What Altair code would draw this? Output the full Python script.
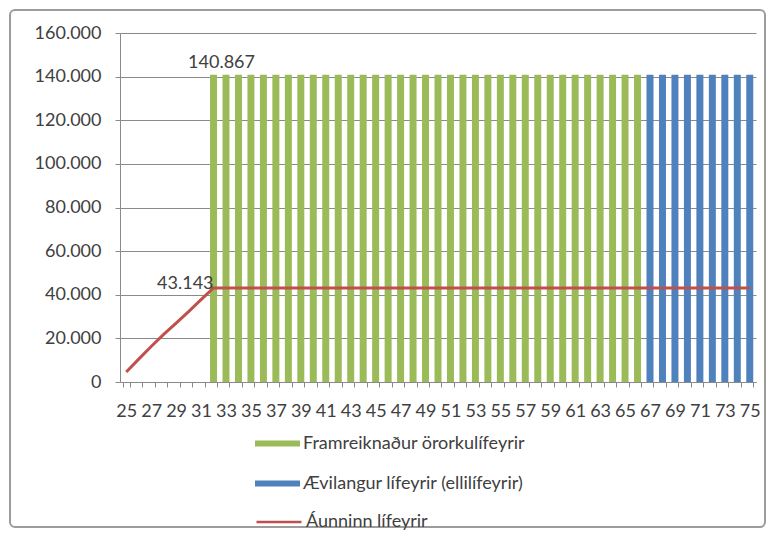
import altair as alt
import pandas as pd

# ---- data ----
ages = [25, 26, 27, 28, 29, 30, 31, 32, 33, 34, 35, 36, 37, 38, 39, 40, 41, 42, 43, 44,
        45, 46, 47, 48, 49, 50, 51, 52, 53, 54, 55, 56, 57, 58, 59, 60, 61, 62, 63, 64,
        65, 66, 67, 68, 69, 70, 71, 72, 73, 74, 75]

# Framreiknaður örorkulífeyrir (green bars), ages 32-66
disability = [None, None, None, None, None, None, None,
              140867, 140867, 140867, 140867, 140867, 140867, 140867, 140867, 140867, 140867,
              140867, 140867, 140867, 140867, 140867, 140867, 140867, 140867, 140867, 140867,
              140867, 140867, 140867, 140867, 140867, 140867, 140867, 140867, 140867, 140867,
              140867, 140867, 140867, 140867, 140867,
              None, None, None, None, None, None, None, None, None]

# Ævilangur lífeyrir (blue bars), ages 67-75
lifelong = [None, None, None, None, None, None, None,
            None, None, None, None, None, None, None, None, None, None,
            None, None, None, None, None, None, None, None, None, None,
            None, None, None, None, None, None, None, None, None, None,
            None, None, None, None, None,
            140867, 140867, 140867, 140867, 140867, 140867, 140867, 140867, 140867]

# Áunninn lífeyrir (red line)
earned = [4600, 10500, 16300, 21800, 27000, 32300, 37800, 43143,
          43143, 43143, 43143, 43143, 43143, 43143, 43143, 43143, 43143, 43143,
          43143, 43143, 43143, 43143, 43143, 43143, 43143, 43143, 43143, 43143,
          43143, 43143, 43143, 43143, 43143, 43143, 43143, 43143, 43143, 43143,
          43143, 43143, 43143, 43143, 43143, 43143, 43143, 43143, 43143, 43143,
          43143, 43143, 43143]

y_ticks = [0, 20000, 40000, 60000, 80000, 100000, 120000, 140000, 160000]

s_green = "Framreiknaður örorkulífeyrir"
s_blue = "Ævilangur lífeyrir (ellilífeyrir)"
s_red = "Áunninn lífeyrir"

# ---- tables ----
age_lbl = [str(a) for a in ages]
bar_rows = []
for a, v in zip(age_lbl, disability):
    if v is not None:
        bar_rows.append({"age": a, "value": v, "serie": s_green})
for a, v in zip(age_lbl, lifelong):
    if v is not None:
        bar_rows.append({"age": a, "value": v, "serie": s_blue})
bars_df = pd.DataFrame(bar_rows)
line_df = pd.DataFrame({"age": age_lbl, "value": earned, "serie": [s_red] * len(ages)})

def fmt(v):
    return f"{v:,}".replace(",", ".")

first_bar = next(i for i, v in enumerate(disability) if v is not None)
peak = earned.index(max(earned))
bar_lab = pd.DataFrame({"age": [age_lbl[first_bar]], "value": [disability[first_bar]],
                        "txt": [fmt(disability[first_bar])]})
line_lab = pd.DataFrame({"age": [age_lbl[peak]], "value": [earned[peak]],
                         "txt": [fmt(earned[peak])]})

FONT = "Lato"
TXT = "#404040"
GRID = "#8a8a8a"

W, H = 636, 349

xscale = alt.Scale(domain=age_lbl, paddingInner=0.44, paddingOuter=0.22)
yscale = alt.Scale(domain=[0, 160000], nice=False)

xaxis = alt.Axis(title=None, labelExpr="toNumber(datum.value) % 2 == 1 ? datum.label : ''",
                 labelOverlap=False, labelAngle=0, tickBand="extent", ticks=True,
                 tickSize=5, tickColor=GRID, tickWidth=1, domainColor=GRID, grid=False,
                 labelFont=FONT, labelFontSize=18, labelColor=TXT, labelPadding=15,
                 labelFontWeight="normal")
yaxis = alt.Axis(title=None, values=y_ticks, grid=True, gridColor=GRID, gridWidth=1,
                 tickSize=5, tickColor=GRID, domainColor=GRID,
                 labelExpr="replace(format(datum.value, ','), ',', '.')",
                 labelFont=FONT, labelFontSize=18, labelColor=TXT, labelPadding=14)

base_bars = alt.Chart(bars_df).mark_bar().encode(
    x=alt.X("age:N", scale=xscale, axis=xaxis, sort=age_lbl),
    y=alt.Y("value:Q", scale=yscale, axis=yaxis),
    color=alt.Color("serie:N",
                    scale=alt.Scale(domain=[s_green, s_blue], range=["#9BBB59", "#4F81BD"]),
                    legend=alt.Legend(orient="none", legendX=135, legendY=388,
                                      direction="vertical", title=None,
                                      symbolType="M-1,-0.133H1V0.133H-1Z", symbolSize=2025,
                                      symbolStrokeWidth=0, labelFont=FONT, labelFontSize=18,
                                      labelColor=TXT, labelOffset=3, rowPadding=8,
                                      padding=0, labelLimit=400)),
)

line = alt.Chart(line_df).mark_line(strokeWidth=3).encode(
    x=alt.X("age:N", scale=xscale, sort=age_lbl),
    y=alt.Y("value:Q", scale=yscale),
    stroke=alt.Stroke("serie:N", scale=alt.Scale(domain=[s_red], range=["#C0504D"]),
                      legend=alt.Legend(orient="none", legendX=135, legendY=465,
                                        direction="vertical", title=None,
                                        symbolType="stroke", symbolSize=2025,
                                        symbolStrokeWidth=2.5, labelFont=FONT,
                                        labelFontSize=18, labelColor=TXT, labelOffset=3,
                                        padding=0, labelLimit=400)),
)

t_bar = alt.Chart(bar_lab).mark_text(font=FONT, fontSize=18, color=TXT, dy=-12, dx=8).encode(
    x=alt.X("age:N", scale=xscale, sort=age_lbl),
    y=alt.Y("value:Q", scale=yscale),
    text="txt:N",
)
t_line = alt.Chart(line_lab).mark_text(font=FONT, fontSize=18, color=TXT, align="right",
                                       baseline="alphabetic", dx=0, dy=1).encode(
    x=alt.X("age:N", scale=xscale, sort=age_lbl),
    y=alt.Y("value:Q", scale=yscale),
    text="txt:N",
)

border = alt.Chart(pd.DataFrame({"k": [0]})).mark_rect(
    fillOpacity=0, stroke="#9c9c9c", strokeWidth=2, cornerRadius=5
).encode(x=alt.value(-110), x2=alt.value(645), y=alt.value(-23), y2=alt.value(494))

chart = alt.layer(border, base_bars, line, t_bar, t_line).resolve_scale(
    color="independent"
).properties(
    width=W, height=H,
    autosize=alt.AutoSizeParams(type="none"),
    padding={"left": 112, "top": 25, "right": 10, "bottom": 148},
    background="white",
).configure_view(stroke=None)

chart.save("out.html", embed_options={"renderer": "svg", "actions": False})
